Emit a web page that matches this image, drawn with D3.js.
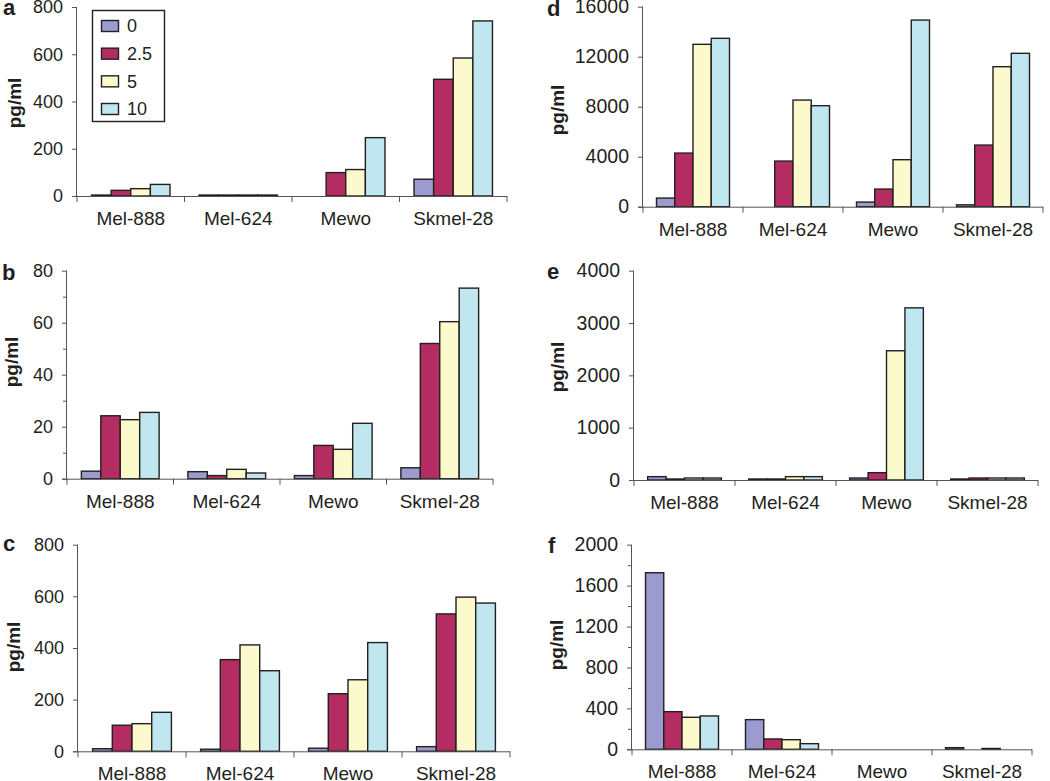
<!DOCTYPE html>
<html>
<head>
<meta charset="utf-8">
<script src="https://cdn.jsdelivr.net/npm/d3@7"></script>
<style>
  html, body { margin: 0; padding: 0; background: #fff; }
  svg { display: block; font-family: "Liberation Sans", Arial, Helvetica, sans-serif; }
</style>
</head>
<body>
<svg id="chart" width="1050" height="781"></svg>
<script>
// ---------- data ----------
const categories = ["Mel-888", "Mel-624", "Mewo", "Skmel-28"];
const doses = ["0", "2.5", "5", "10"];

// panel a
const aDose0   = [4, 4, 0, 71];
const aDose2_5 = [24, 4, 99, 494];
const aDose5   = [31, 4, 112, 584];
const aDose10  = [49, 4, 247, 741];
const aTicks = [0, 200, 400, 600, 800];

// panel b
const bDose0   = [2.9, 2.7, 1.2, 4.2];
const bDose2_5 = [24.2, 1.2, 12.8, 52];
const bDose5   = [22.7, 3.6, 11.3, 60.4];
const bDose10  = [25.5, 2.2, 21.3, 73.3];
const bTicks = [0, 20, 40, 60, 80];
const bMinor = [10, 30, 50, 70];

// panel c
const cDose0   = [10, 8, 12, 18];
const cDose2_5 = [101, 355, 223, 532];
const cDose5   = [107, 412, 277, 597];
const cDose10  = [151, 312, 421, 574];
const cTicks = [0, 200, 400, 600, 800];

// panel d
const dDose0   = [690, 0, 370, 150];
const dDose2_5 = [4290, 3650, 1410, 4930];
const dDose5   = [12990, 8530, 3760, 11200];
const dDose10  = [13470, 8080, 14930, 12270];
const dTicks = [0, 4000, 8000, 12000, 16000];

// panel e
const eDose0   = [64, 19, 38, 19];
const eDose2_5 = [19, 19, 140, 38];
const eDose5   = [38, 64, 2470, 38];
const eDose10  = [38, 64, 3290, 38];
const eTicks = [0, 1000, 2000, 3000, 4000];

// panel f
const fDose0   = [1726, 290, 0, 16];
const fDose2_5 = [368, 101, 0, 0];
const fDose5   = [313, 94, 0, 8];
const fDose10  = [326, 55, 0, 0];
const fTicks = [0, 400, 800, 1200, 1600, 2000];
const fMinor = [200, 600, 1000, 1400, 1800];

const yLabel = "pg/ml";

// ---------- styling ----------
const colors = ["#9c9bcf", "#b32d62", "#fcf9cd", "#c0e6ef"];
const inkColor = "#231f20";
const axisColor = "#555";

const panels = [
  { letter: "a", series: [aDose0, aDose2_5, aDose5, aDose10], ticks: aTicks, minor: [],
    x0: 77, x1: 507, y0: 196, y1: 7, fs: 18, letterPos: [3, 15], labelPos: [15, 103] },
  { letter: "b", series: [bDose0, bDose2_5, bDose5, bDose10], ticks: bTicks, minor: bMinor,
    x0: 67, x1: 493, y0: 478.7, y1: 270.7, fs: 18, letterPos: [2, 280], labelPos: [12, 362] },
  { letter: "c", series: [cDose0, cDose2_5, cDose5, cDose10], ticks: cTicks, minor: [],
    x0: 78, x1: 510, y0: 751.3, y1: 544.7, fs: 18, letterPos: [3, 551], labelPos: [14, 647] },
  { letter: "d", series: [dDose0, dDose2_5, dDose5, dDose10], ticks: dTicks, minor: [],
    x0: 643, x1: 1043, y0: 206.7, y1: 6.7, fs: 19.5, letterPos: [547, 16], labelPos: [558, 110] },
  { letter: "e", series: [eDose0, eDose2_5, eDose5, eDose10], ticks: eTicks, minor: [],
    x0: 634, x1: 1038, y0: 480, y1: 270.7, fs: 19.5, letterPos: [547, 279], labelPos: [558, 367] },
  { letter: "f", series: [fDose0, fDose2_5, fDose5, fDose10], ticks: fTicks, minor: fMinor,
    x0: 632, x1: 1032, y0: 749.3, y1: 544.7, fs: 19.5, letterPos: [548, 553], labelPos: [557, 645] }
];

const svg = d3.select("#chart");

panels.forEach(p => {
  const g = svg.append("g");
  const x = d3.scaleBand().domain(categories).range([p.x0, p.x1]).paddingInner(0).paddingOuter(0);
  const xs = d3.scaleBand().domain(doses).range([0, x.bandwidth()]).paddingInner(0).paddingOuter(0.135 / 0.73 * 0.73 / 1);
  // inner group: 73% of the band, centered
  const groupW = x.bandwidth() * 0.73;
  const xi = d3.scaleBand().domain(doses).range([(x.bandwidth() - groupW) / 2, (x.bandwidth() + groupW) / 2]);
  const y = d3.scaleLinear().domain([0, d3.max(p.ticks)]).range([p.y0, p.y1]);

  // bars
  p.series.forEach((vals, si) => {
    g.append("g").selectAll("rect")
      .data(vals.map((v, i) => ({ v, cat: categories[i] })).filter(d => d.v > 0))
      .join("rect")
      .attr("x", d => x(d.cat) + xi(doses[si]))
      .attr("width", xi.bandwidth())
      .attr("y", d => y(d.v))
      .attr("height", d => y(0) - y(d.v))
      .attr("fill", colors[si])
      .attr("stroke", inkColor)
      .attr("stroke-width", 1.4);
  });

  // y axis
  const yAxis = d3.axisLeft(y).tickValues(p.ticks).tickSize(5).tickPadding(9).tickFormat(d3.format("d"));
  const ya = g.append("g").attr("transform", `translate(${p.x0},0)`).call(yAxis);
  ya.select(".domain").attr("stroke", axisColor).attr("d", `M-0.5,${p.y1}V${p.y0}`);
  ya.selectAll(".tick line").attr("stroke", axisColor);
  ya.selectAll(".tick text").attr("fill", inkColor).style("font-size", p.fs + "px")
    .style("font-family", '"Liberation Sans", Arial, sans-serif');
  if (p.minor.length) {
    const ym = d3.axisLeft(y).tickValues(p.minor).tickSize(4).tickFormat("");
    const ymg = g.append("g").attr("transform", `translate(${p.x0},0)`).call(ym);
    ymg.select(".domain").remove();
    ymg.selectAll(".tick line").attr("stroke", axisColor);
  }

  // x axis: line with ticks at category boundaries
  const xa = g.append("g");
  xa.append("line").attr("x1", p.x0 - 5).attr("x2", p.x1).attr("y1", p.y0 + 0.5).attr("y2", p.y0 + 0.5)
    .attr("stroke", axisColor);
  const bounds = categories.map(c => x(c)).concat([p.x1]);
  xa.selectAll("line.bt").data(bounds).join("line").attr("class", "bt")
    .attr("x1", d => d).attr("x2", d => d).attr("y1", p.y0).attr("y2", p.y0 + 6)
    .attr("stroke", axisColor);
  xa.selectAll("text").data(categories).join("text")
    .attr("x", d => x(d) + x.bandwidth() / 2)
    .attr("y", p.y0 + 29)
    .attr("text-anchor", "middle")
    .attr("fill", inkColor)
    .style("font-size", "19px")
    .text(d => d);

  // y label
  g.append("text")
    .attr("transform", `translate(${p.labelPos[0] + 6},${p.labelPos[1]}) rotate(-90)`)
    .attr("text-anchor", "middle")
    .attr("fill", inkColor)
    .style("font-size", "19px").style("font-weight", "bold")
    .text(yLabel);

  // panel letter
  g.append("text")
    .attr("x", p.letterPos[0]).attr("y", p.letterPos[1])
    .attr("fill", inkColor)
    .style("font-size", "22px").style("font-weight", "bold")
    .text(p.letter);
});

// legend in panel a
const legend = svg.append("g");
legend.append("rect").attr("x", 92.5).attr("y", 10.5).attr("width", 72).attr("height", 111)
  .attr("fill", "#fff").attr("stroke", inkColor).attr("stroke-width", 1.4);
const ly = d3.scalePoint().domain(doses).range([26, 109]);
doses.forEach((d, i) => {
  legend.append("rect").attr("x", 101.5).attr("y", ly(d) - 5.5).attr("width", 17).attr("height", 11)
    .attr("fill", colors[i]).attr("stroke", inkColor).attr("stroke-width", 1.4);
  legend.append("text").attr("x", 127).attr("y", ly(d)).attr("dy", "0.35em")
    .attr("fill", inkColor).style("font-size", "18px").text(d);
});
</script>
</body>
</html>
